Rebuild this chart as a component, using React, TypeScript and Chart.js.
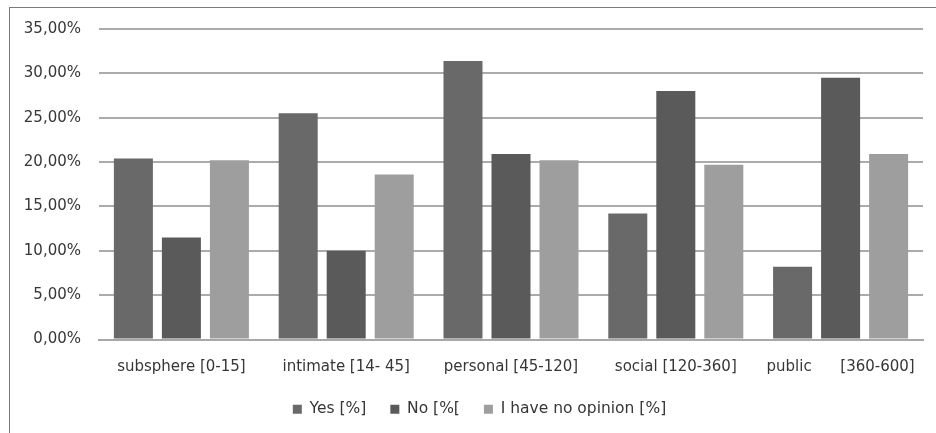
import React, { useEffect, useRef } from "react";
import { Chart, registerables } from "chart.js";

Chart.register(...registerables);

const categories = [
  "subsphere [0-15]",
  "intimate [14- 45]",
  "personal [45-120]",
  "social [120-360]",
  "public      [360-600]",
];
const yesValues = [20.4, 25.5, 31.4, 14.2, 8.2];
const noValues = [11.5, 10.0, 20.9, 28.0, 29.5];
const opinionValues = [20.2, 18.6, 20.2, 19.7, 20.9];
const seriesNames = ["Yes [%]", "No [%[", "I have no opinion [%]"];

const FONT = "'DejaVu Sans', sans-serif";

const legendShift = {
  id: "legendShift",
  afterLayout(chart: any) {
    if (chart.legend) {
      chart.legend.left += 13;
      chart.legend.right += 13;
    }
  },
};

export default function App() {
  const ref = useRef<HTMLCanvasElement | null>(null);
  useEffect(() => {
    if (!ref.current) return;
    const chart = new Chart(ref.current, {
      type: "bar",
      data: {
        labels: categories,
        datasets: [
          { label: seriesNames[0], data: yesValues, backgroundColor: "#696969" },
          { label: seriesNames[1], data: noValues, backgroundColor: "#5a5a5a" },
          { label: seriesNames[2], data: opinionValues, backgroundColor: "#9e9e9e" },
        ],
      },
      plugins: [legendShift],
      options: {
        responsive: false,
        animation: false,
        layout: { padding: { top: 21, right: 13, left: 0, bottom: 6 } },
        datasets: {
          bar: { categoryPercentage: 0.874, barPercentage: 0.8125 },
        },
        scales: {
          x: {
            grid: { display: false, drawTicks: false },
            border: { display: true, color: "#a8a8a8", width: 2 },
            ticks: {
              color: "#363636",
              font: { family: FONT, size: 15 },
              padding: 19,
              maxRotation: 0,
              autoSkip: false,
            },
            afterFit: (s: any) => {
              s.height = 38;
            },
          },
          y: {
            min: 0,
            max: 35,
            grid: {
              color: "#ababab",
              lineWidth: 2,
              drawTicks: true,
              tickLength: 18,
              tickColor: "rgba(0,0,0,0)",
            },
            border: { display: false },
            ticks: {
              stepSize: 5,
              color: "#363636",
              font: { family: FONT, size: 15 },
              padding: 0,
              callback: (v: any) => Number(v).toFixed(2).replace(".", ",") + "%",
            },
            afterFit: (s: any) => {
              s.width = 89;
            },
          },
        },
        plugins: {
          legend: {
            position: "bottom",
            labels: {
              boxWidth: 9,
              boxHeight: 9,
              padding: 24,
              color: "#363636",
              font: { family: FONT, size: 15.5 },
            },
          },
          tooltip: { enabled: false },
        },
      },
    });
    return () => chart.destroy();
  }, []);
  return (
    <div
      style={{
        position: "absolute",
        top: 7,
        left: 9,
        width: 927,
        height: 426,
        borderTop: "1px solid #7a7a7a",
        borderLeft: "1px solid #7a7a7a",
        boxSizing: "border-box",
        background: "#fff",
      }}
    >
      <canvas ref={ref} width={926} height={425} style={{ display: "block" }} />
    </div>
  );
}
